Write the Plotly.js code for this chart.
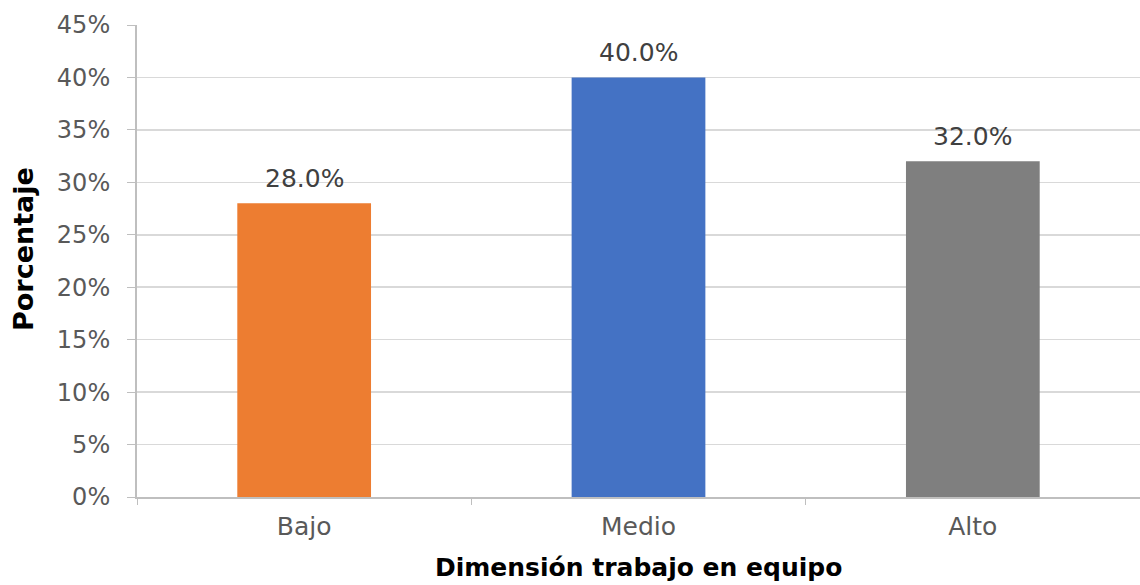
<!DOCTYPE html>
<html>
<head>
<meta charset="utf-8">
<script src="https://cdn.plot.ly/plotly-3.0.1.min.js"></script>
<style>
  html, body { margin: 0; padding: 0; background: #ffffff; }
  #chart { width: 1140px; height: 585px; }
</style>
</head>
<body>
<div id="chart"></div>
<script>
const categories = ["Bajo", "Medio", "Alto"];
const values = [28.0, 40.0, 32.0];
const barColors = ["#ED7D31", "#4472C4", "#7F7F7F"];
const xTitle = "Dimensión trabajo en equipo";
const yTitle = "Porcentaje";

const trace = {
  type: "bar",
  x: categories,
  y: values,
  marker: { color: barColors },
  hoverinfo: "skip"
};

const labelAnnotations = categories.map((c, i) => ({
  x: c, y: values[i], xref: "x", yref: "y",
  text: values[i].toFixed(1) + "%",
  showarrow: false, xanchor: "center", yanchor: "bottom", yshift: 8,
  font: { family: "DejaVu Sans", size: 25, color: "#404040" }
}));

const titleAnnotations = [
  {
    text: xTitle, xref: "paper", yref: "paper", x: 0.5, y: 0,
    xanchor: "center", yanchor: "middle", yshift: -70, showarrow: false,
    font: { family: "DejaVu Sans", size: 25, color: "#000000", weight: "bold" }
  },
  {
    text: yTitle, xref: "paper", yref: "paper", x: 0, y: 0.5, textangle: -90,
    xanchor: "center", yanchor: "middle", xshift: -114, yshift: 12, showarrow: false,
    font: { family: "DejaVu Sans", size: 27, color: "#000000", weight: "bold" }
  }
];

const layout = {
  width: 1140,
  height: 585,
  margin: { l: 137, r: 0, t: 25, b: 88 },
  paper_bgcolor: "#ffffff",
  plot_bgcolor: "#ffffff",
  showlegend: false,
  bargap: 0.6,
  font: { family: "DejaVu Sans", color: "#595959" },
  annotations: labelAnnotations.concat(titleAnnotations),
  xaxis: {
    type: "category",
    showgrid: false,
    showline: true,
    linecolor: "#bfbfbf",
    linewidth: 2,
    ticks: "outside",
    tickson: "boundaries",
    ticklen: 6,
    tickcolor: "#bfbfbf",
    ticklabelstandoff: 6,
    tickfont: { family: "DejaVu Sans", size: 25, color: "#595959" },
    fixedrange: true
  },
  yaxis: {
    range: [0, 45],
    dtick: 5,
    ticksuffix: "%",
    showgrid: true,
    gridcolor: "#d9d9d9",
    gridwidth: 1.5,
    zeroline: false,
    showline: true,
    linecolor: "#bfbfbf",
    linewidth: 2,
    ticks: "outside",
    ticklen: 8,
    tickcolor: "#bfbfbf",
    ticklabelstandoff: 12,
    tickfont: { family: "DejaVu Sans", size: 24, color: "#595959" },
    fixedrange: true
  }
};

Plotly.newPlot("chart", [trace], layout, { displayModeBar: false, staticPlot: true });
</script>
</body>
</html>
